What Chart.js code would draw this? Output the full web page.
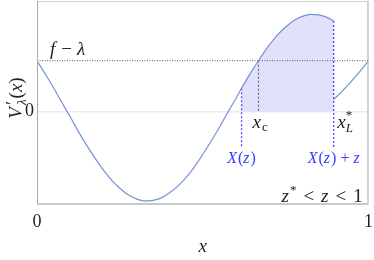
<!DOCTYPE html>
<html>
<head>
<meta charset="utf-8">
<script src="https://cdn.jsdelivr.net/npm/chart.js@4.4.1/dist/chart.umd.min.js"></script>
<style>
  html, body { margin: 0; padding: 0; background: #fff; }
  #wrap { width: 374px; height: 260px; }
</style>
</head>
<body>
<div id="wrap"><canvas id="chart"></canvas></div>
<script>
// V'_lambda(x), branch up to the jump at X(z)+z
const curveX = [0, 0.025, 0.05, 0.075, 0.1, 0.125, 0.15, 0.175, 0.2, 0.225,
  0.25, 0.275, 0.3, 0.325, 0.35, 0.375, 0.4, 0.425, 0.45, 0.475,
  0.5, 0.525, 0.55, 0.575, 0.6, 0.617, 0.625, 0.65, 0.668, 0.675,
  0.7, 0.725, 0.75, 0.775, 0.8, 0.825, 0.85, 0.875, 0.895];
const curveY = [1.00, 0.74, 0.47, 0.18, -0.10, -0.39, -0.66, -0.91, -1.14, -1.34,
  -1.50, -1.63, -1.71, -1.75, -1.74, -1.69, -1.59, -1.46, -1.29, -1.08,
  -0.84, -0.58, -0.31, -0.02, 0.26, 0.46, 0.55, 0.82, 1.00, 1.07,
  1.30, 1.50, 1.66, 1.79, 1.87, 1.91, 1.90, 1.85, 1.78];
// branch after the jump
const tailX = [0.895, 0.92, 0.945, 0.97, 1];
const tailY = [0.24, 0.40, 0.57, 0.76, 1.00];

const fLambda = 1;
const Xz = 0.617;
const xc = 0.668;
const XzPlusZ = 0.895;
const dashBottom = -0.71;

const xTicks = [0, 1];
const yTicks = [0];

const curvePts = curveX.map((x, i) => ({ x: x, y: curveY[i] }));
const tailPts = tailX.map((x, i) => ({ x: x, y: tailY[i] }));
const shadePts = curvePts.filter(p => p.x >= Xz);
const yAt = x => curveY[curveX.indexOf(x)];

const FAM = '"Liberation Serif", "DejaVu Serif", serif';
const IT = 'italic 19px ' + FAM;
const RM = '19px ' + FAM;
const ITs = 'italic 13px ' + FAM;
const RMs = '13px ' + FAM;
const BIT = 'italic 16px ' + FAM;
const BRM = '16px ' + FAM;
const BLUE = '#3a3aff';
const INK = '#222';

function run(ctx, x, y, parts, draw) {
  ctx.textBaseline = 'alphabetic';
  ctx.textAlign = 'left';
  const x0 = x;
  for (const p of parts) {
    ctx.font = p.f;
    x += p.gap || 0;
    if (draw) ctx.fillText(p.t, x, y + (p.dy || 0));
    if (!p.stack) x += ctx.measureText(p.t).width;
  }
  return x - x0;
}

const extras = {
  id: 'extras',
  afterDraw(chart) {
    const ctx = chart.ctx;
    const a = chart.chartArea;
    const sx = chart.scales.x, sy = chart.scales.y;
    ctx.save();
    // frame
    ctx.lineWidth = 1;
    ctx.strokeStyle = '#d4d4d4';
    ctx.beginPath(); ctx.moveTo(a.left, a.top + 0.5); ctx.lineTo(a.right, a.top + 0.5); ctx.stroke();
    ctx.strokeStyle = '#a8a8a8';
    ctx.beginPath(); ctx.moveTo(a.left + 0.5, a.top); ctx.lineTo(a.left + 0.5, a.bottom); ctx.stroke();
    ctx.beginPath(); ctx.moveTo(a.right - 0.5, a.top); ctx.lineTo(a.right - 0.5, a.bottom); ctx.stroke();
    ctx.strokeStyle = '#c8c8c8';
    ctx.lineWidth = 2;
    ctx.beginPath(); ctx.moveTo(a.left, a.bottom); ctx.lineTo(a.right, a.bottom); ctx.stroke();

    ctx.fillStyle = INK;
    // f - lambda
    const yf = sy.getPixelForValue(fLambda);
    run(ctx, sx.getPixelForValue(0) + 13, yf - 6, [
      { t: 'f', f: IT }, { t: '\u2212', f: RM, gap: 6 }, { t: '\u03bb', f: IT, gap: 5 }
    ], true);
    // x_c
    const y0 = sy.getPixelForValue(0);
    run(ctx, sx.getPixelForValue(xc) - 6, y0 + 16.5, [
      { t: 'x', f: IT }, { t: 'c', f: RMs, dy: 3, gap: 1 }
    ], true);
    // x*_L
    run(ctx, sx.getPixelForValue(XzPlusZ) + 3.5, y0 + 16.5, [
      { t: 'x', f: IT }, { t: '*', f: RMs, dy: -9, stack: true, gap: 0 }, { t: 'L', f: ITs, dy: 4, gap: 0 }
    ], true);
    // z* < z < 1
    run(ctx, a.right - 87, a.bottom - 2, [
      { t: 'z', f: IT }, { t: '*', f: RMs, dy: -8, gap: 1 },
      { t: '<', f: RM, gap: 7 }, { t: 'z', f: IT, gap: 7 }, { t: '<', f: RM, gap: 7 }, { t: '1', f: RM, gap: 7 }
    ], true);
    // blue labels
    ctx.fillStyle = BLUE;
    const lab1 = [{ t: 'X', f: BIT }, { t: '(', f: BRM, gap: 1 }, { t: 'z', f: BIT }, { t: ')', f: BRM, gap: 1 }];
    const lab2 = lab1.concat([{ t: '+', f: BRM, gap: 4 }, { t: 'z', f: BIT, gap: 4 }]);
    const yb = sy.getPixelForValue(dashBottom) + 15;
    let w = run(ctx, 0, 0, lab1, false);
    run(ctx, sx.getPixelForValue(Xz) - w / 2, yb, lab1, true);
    w = run(ctx, 0, 0, lab2, false);
    run(ctx, sx.getPixelForValue(XzPlusZ) - w / 2, yb, lab2, true);

    // axis titles
    ctx.fillStyle = INK;
    const xt = [{ t: 'x', f: IT }];
    w = run(ctx, 0, 0, xt, false);
    run(ctx, (a.left + a.right) / 2 - w / 2, 251.5, xt, true);

    const yt = [
      { t: 'V', f: IT }, { t: '\u2032', f: RM, dy: -3, stack: true, gap: 2 },
      { t: '\u03bb', f: ITs, dy: 4, gap: 0 },
      { t: '(', f: RM, gap: 1 }, { t: 'x', f: IT }, { t: ')', f: RM }
    ];
    w = run(ctx, 0, 0, yt, false);
    ctx.translate(22, 98);
    ctx.rotate(-Math.PI / 2);
    run(ctx, -w / 2, 0, yt, true);
    ctx.restore();
  }
};

const lineStyle = { showLine: true, pointRadius: 0, borderWidth: 1 };

new Chart(document.getElementById('chart'), {
  type: 'scatter',
  data: {
    datasets: [
      Object.assign({}, lineStyle, { data: curvePts, borderColor: '#7393d4', borderWidth: 1.2, cubicInterpolationMode: 'monotone', order: 0 }),
      Object.assign({}, lineStyle, { data: tailPts, borderColor: '#7393d4', borderWidth: 1.2, cubicInterpolationMode: 'monotone', order: 0 }),
      Object.assign({}, lineStyle, { data: [{ x: 0, y: fLambda }, { x: 1, y: fLambda }], borderColor: '#555', borderDash: [1, 1.5], order: 1 }),
      Object.assign({}, lineStyle, { data: [{ x: xc, y: fLambda }, { x: xc, y: 0 }], borderColor: '#555', borderDash: [2, 2], order: 1 }),
      Object.assign({}, lineStyle, { data: [{ x: Xz, y: yAt(Xz) }, { x: Xz, y: dashBottom }], borderColor: 'rgb(70,70,255)', borderWidth: 1.3, borderDash: [2, 2], order: 1 }),
      Object.assign({}, lineStyle, { data: [{ x: XzPlusZ, y: yAt(XzPlusZ) }, { x: XzPlusZ, y: dashBottom }], borderColor: 'rgb(70,70,255)', borderWidth: 1.3, borderDash: [2, 2], order: 1 }),
      Object.assign({}, lineStyle, { data: shadePts, borderWidth: 0, borderColor: 'rgba(0,0,0,0)', backgroundColor: '#e1e1fb', fill: 'origin', cubicInterpolationMode: 'monotone', order: 5 })
    ]
  },
  options: {
    responsive: true,
    maintainAspectRatio: false,
    animation: false,
    events: [],
    layout: { padding: { top: 1, right: 5.5, left: 0, bottom: 0 } },
    plugins: { legend: { display: false }, tooltip: { enabled: false } },
    scales: {
      x: {
        type: 'linear', min: 0, max: 1,
        grid: { display: false, drawTicks: false },
        border: { display: false },
        ticks: { font: { family: 'Liberation Serif', size: 18 }, color: INK, padding: 7, maxRotation: 0 },
        afterBuildTicks: s => { s.ticks = xTicks.map(v => ({ value: v })); },
        afterFit: s => { s.height = 56; s.paddingLeft = 0; s.paddingRight = 0; }
      },
      y: {
        min: -1.81, max: 2.171,
        grid: { color: '#ebebeb', lineWidth: 1.5, drawTicks: false },
        border: { display: false },
        ticks: { font: { family: 'Liberation Serif', size: 18 }, color: INK, padding: 3 },
        afterBuildTicks: s => { s.ticks = yTicks.map(v => ({ value: v })); },
        afterFit: s => { s.width = 37; s.paddingTop = 0; s.paddingBottom = 0; }
      }
    }
  },
  plugins: [extras]
});
</script>
</body>
</html>
